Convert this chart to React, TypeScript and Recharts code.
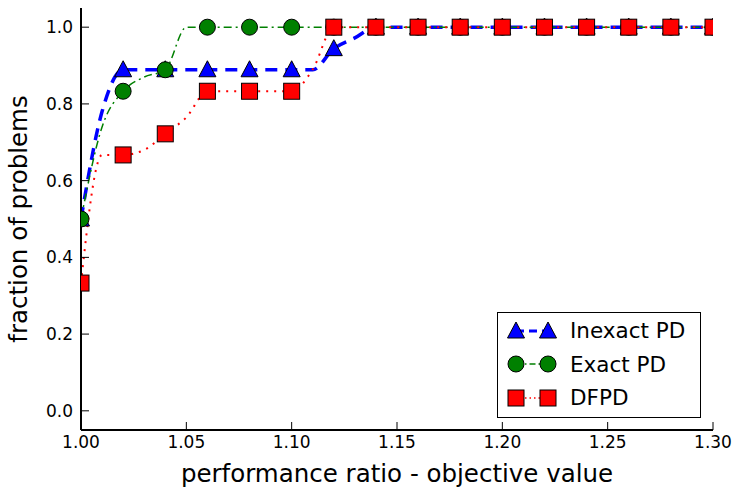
import React from "react";
import {
  ComposedChart,
  Line,
  XAxis,
  YAxis,
  Legend,
} from "recharts";

// performance ratio sampled every 0.01, markers every 0.02
const ratios = [
  1.0, 1.01, 1.02, 1.03, 1.04, 1.05, 1.06, 1.07, 1.08, 1.09, 1.1, 1.11, 1.12,
  1.13, 1.14, 1.15, 1.16, 1.17, 1.18, 1.19, 1.2, 1.21, 1.22, 1.23, 1.24, 1.25,
  1.26, 1.27, 1.28, 1.29, 1.3,
];
const inexactPD = [
  0.5, 0.78, 0.889, 0.889, 0.889, 0.889, 0.889, 0.889, 0.889, 0.889, 0.889,
  0.889, 0.944, 0.972, 1, 1, 1, 1, 1, 1, 1, 1, 1, 1, 1, 1, 1, 1, 1, 1, 1,
];
const exactPD = [
  0.5, 0.74, 0.833, 0.87, 0.889, 1, 1, 1, 1, 1, 1, 1, 1, 1, 1, 1, 1, 1, 1, 1,
  1, 1, 1, 1, 1, 1, 1, 1, 1, 1, 1,
];
const dfpd = [
  0.333, 0.667, 0.667, 0.68, 0.722, 0.765, 0.833, 0.833, 0.833, 0.833, 0.833,
  0.89, 1, 1, 1, 1, 1, 1, 1, 1, 1, 1, 1, 1, 1, 1, 1, 1, 1, 1, 1,
];

const xTicks = [1.0, 1.05, 1.1, 1.15, 1.2, 1.25, 1.3];
const yTicks = [0, 0.2, 0.4, 0.6, 0.8, 1.0];

const data = ratios.map((r, i) => ({
  r,
  inexact: inexactPD[i],
  exact: exactPD[i],
  dfpd: dfpd[i],
}));

const FONT = "'DejaVu Sans', sans-serif";

const isMarker = (r: number) => Math.round(r * 100) % 2 === 0;

const Triangle = ({ cx, cy }: { cx: number; cy: number }) => (
  <path
    d={`M${cx},${cy - 9} L${cx + 8.5},${cy + 7} L${cx - 8.5},${cy + 7} Z`}
    fill="#0000ff"
    stroke="#000"
    strokeWidth={1}
  />
);
const Circle = ({ cx, cy }: { cx: number; cy: number }) => (
  <circle cx={cx} cy={cy} r={8} fill="#008000" stroke="#000" strokeWidth={1} />
);
const Square = ({ cx, cy }: { cx: number; cy: number }) => (
  <rect x={cx - 8} y={cy - 8} width={16} height={16} fill="#ff0000" stroke="#000" strokeWidth={1} />
);

const makeDot = (Shape: any) => (props: any) => {
  const { cx, cy, payload, index } = props;
  if (!isMarker(payload.r) || cx == null || cy == null) return <g key={index} />;
  return <Shape key={index} cx={cx} cy={cy} />;
};

const legendItems = [
  { label: "Inexact PD", Shape: Triangle, color: "#0000ff", dash: "8 5", width: 3 },
  { label: "Exact PD", Shape: Circle, color: "#008000", dash: "6 3 1.5 3", width: 1.5 },
  { label: "DFPD", Shape: Square, color: "#ff0000", dash: "1.5 3", width: 1.5 },
];

const renderLegend = () => (
  <div
    style={{
      width: 204,
      height: 106,
      border: "1.5px solid #000",
      background: "#fff",
      boxSizing: "border-box",
      fontFamily: FONT,
      fontSize: 21.5,
      paddingTop: 1,
    }}
  >
    {legendItems.map((it) => (
      <div key={it.label} style={{ display: "flex", alignItems: "center", height: 33.5 }}>
        <svg width={66} height={30} style={{ marginLeft: 2 }}>
          <line x1={16} y1={15} x2={48} y2={15} stroke={it.color} strokeWidth={it.width} strokeDasharray={it.dash} />
          <it.Shape cx={16} cy={15} />
          <it.Shape cx={48} cy={15} />
        </svg>
        <span style={{ marginLeft: 4 }}>{it.label}</span>
      </div>
    ))}
  </div>
);

export default function App() {
  return (
    <div style={{ position: "absolute", left: 0, top: 0, background: "#fff" }}>
      <ComposedChart
        width={735}
        height={488}
        data={data}
        margin={{ top: 8, right: 22, left: 10, bottom: 0 }}
      >
        <XAxis
          dataKey="r"
          type="number"
          domain={[1.0, 1.3]}
          ticks={xTicks}
          allowDataOverflow
          tickFormatter={(v: number) => v.toFixed(2)}
          tickSize={-8}
          tickMargin={14}
          height={58}
          axisLine={{ stroke: "#000", strokeWidth: 2 }}
          tickLine={{ stroke: "#000" }}
          tick={{ fill: "#000", fontSize: 17, fontFamily: FONT }}
          label={{
            value: "performance ratio - objective value",
            position: "insideBottom",
            offset: 6,
            fill: "#000",
            fontSize: 24.5,
            fontFamily: FONT,
          }}
        />
        <XAxis
          xAxisId="top"
          orientation="top"
          dataKey="r"
          type="number"
          domain={[1.0, 1.3]}
          ticks={xTicks}
          height={0}
          tickSize={-8}
          tickFormatter={() => ""}
          axisLine={{ stroke: "#000", strokeWidth: 2 }}
          tickLine={{ stroke: "#000" }}
        />
        <YAxis
          type="number"
          domain={[-0.05, 1.05]}
          ticks={yTicks}
          allowDataOverflow
          tickFormatter={(v: number) => v.toFixed(1)}
          tickSize={-8}
          tickMargin={16}
          width={71}
          axisLine={{ stroke: "#000", strokeWidth: 2 }}
          tickLine={{ stroke: "#000" }}
          tick={{ fill: "#000", fontSize: 17, fontFamily: FONT }}
          label={{
            value: "fraction of problems",
            angle: -90,
            position: "insideLeft",
            offset: 8,
            style: { textAnchor: "middle" },
            fill: "#000",
            fontSize: 24.5,
            fontFamily: FONT,
          }}
        />
        <YAxis
          yAxisId="right"
          orientation="right"
          type="number"
          domain={[-0.05, 1.05]}
          ticks={yTicks}
          width={0}
          tickSize={-8}
          tickFormatter={() => ""}
          axisLine={{ stroke: "#000", strokeWidth: 2 }}
          tickLine={{ stroke: "#000" }}
        />
        <Line
          dataKey="inexact"
          type="monotone"
          stroke="#0000ff"
          strokeWidth={3.5}
          strokeDasharray="12 8"
          dot={makeDot(Triangle)}
          activeDot={false}
          isAnimationActive={false}
        />
        <Line
          dataKey="exact"
          type="monotone"
          stroke="#008000"
          strokeWidth={1.5}
          strokeDasharray="8 4 2 4"
          dot={makeDot(Circle)}
          activeDot={false}
          isAnimationActive={false}
        />
        <Line
          dataKey="dfpd"
          type="monotone"
          stroke="#ff0000"
          strokeWidth={2}
          strokeDasharray="2 6"
          dot={makeDot(Square)}
          activeDot={false}
          isAnimationActive={false}
        />
        <Legend
          layout="horizontal"
          verticalAlign="middle"
          align="center"
          content={renderLegend}
          wrapperStyle={{ position: "absolute", left: 497, top: 312, width: 204 }}
        />
      </ComposedChart>
    </div>
  );
}
